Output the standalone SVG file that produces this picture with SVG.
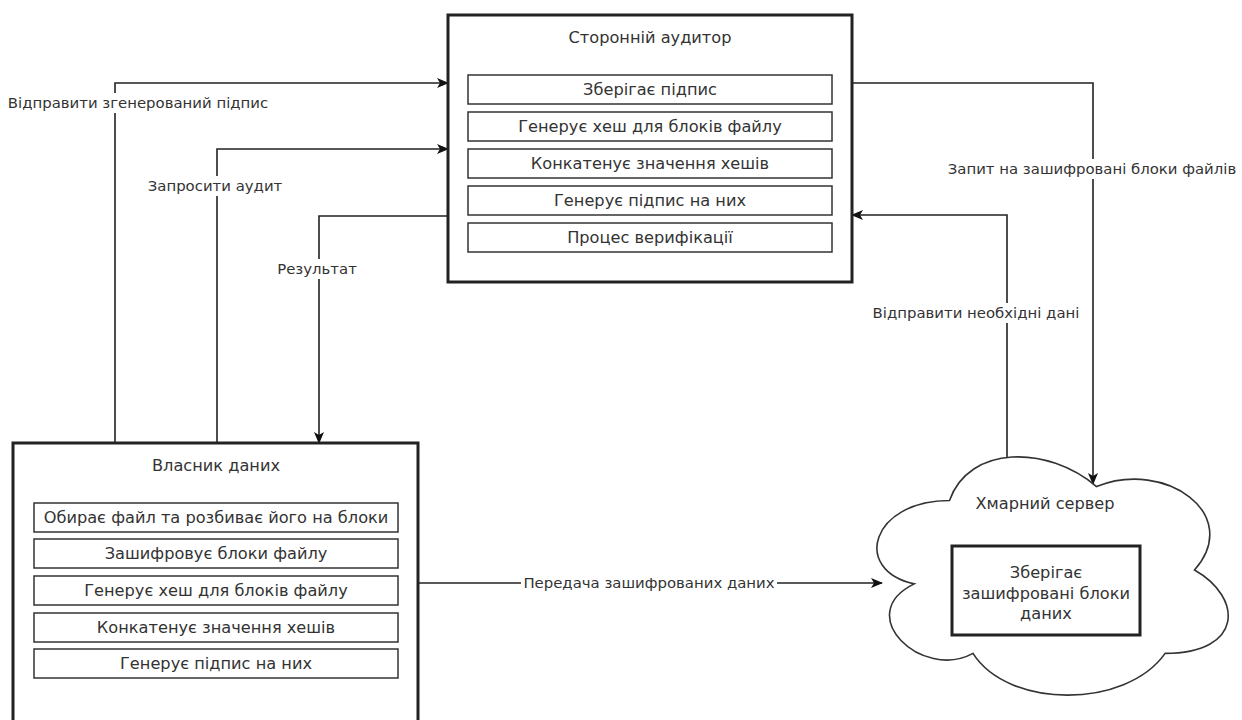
<svg xmlns="http://www.w3.org/2000/svg" width="1242" height="720" viewBox="0 0 1242 720">
<style>
  .box{fill:#fff;stroke:#222;stroke-width:3}
  .row{fill:#fff;stroke:#333;stroke-width:1.5}
  .t{font-family:"DejaVu Sans",Verdana,sans-serif;font-size:16.2px;fill:#333;text-anchor:middle}
  .l{font-family:"DejaVu Sans",Verdana,sans-serif;font-size:14.9px;fill:#333;text-anchor:middle}
  .edge{fill:none;stroke:#222;stroke-width:1.6}
  .lbl{fill:#fff}
</style>
<defs>
  <marker id="arr" viewBox="0 0 12 10" refX="11" refY="5" markerWidth="12" markerHeight="10" markerUnits="userSpaceOnUse" orient="auto">
    <path d="M0,0 L12,5 L0,10 L3,5 Z" fill="#111"/>
  </marker>
</defs>
<rect width="1242" height="720" fill="#fff"/>

<g id="connectors">
  <path class="edge" d="M115,443 V83 H448" marker-end="url(#arr)"/>
  <path class="edge" d="M217,443 V149 H448" marker-end="url(#arr)"/>
  <path class="edge" d="M448,216 H319 V443" marker-end="url(#arr)"/>
  <path class="edge" d="M852,83 H1093 V484" marker-end="url(#arr)"/>
  <path class="edge" d="M1007,457 V215 H852" marker-end="url(#arr)"/>
  <path class="edge" d="M418,583 H882" marker-end="url(#arr)"/>
  <rect class="lbl" x="8" y="93" width="262" height="20"/>
  <text class="l" x="138" y="108">Відправити згенерований підпис</text>
  <rect class="lbl" x="148" y="176" width="134" height="20"/>
  <text class="l" x="215" y="191">Запросити аудит</text>
  <rect class="lbl" x="276" y="259" width="82" height="20"/>
  <text class="l" x="317" y="274">Результат</text>
  <rect class="lbl" x="946" y="159" width="293" height="20"/>
  <text class="l" x="1092" y="174">Запит на зашифровані блоки файлів</text>
  <rect class="lbl" x="871" y="303" width="210" height="20"/>
  <text class="l" x="976" y="318">Відправити необхідні дані</text>
  <rect class="lbl" x="521" y="573" width="256" height="20"/>
  <text class="l" x="649" y="588">Передача зашифрованих даних</text>
</g>

<g id="auditor">
  <rect class="box" x="448" y="15" width="404" height="267"/>
  <text class="t" x="650" y="43">Сторонній аудитор</text>
  <rect class="row" x="468" y="75" width="364" height="29"/>
  <text class="t" x="650" y="95">Зберігає підпис</text>
  <rect class="row" x="468" y="112" width="364" height="29"/>
  <text class="t" x="650" y="132">Генерує хеш для блоків файлу</text>
  <rect class="row" x="468" y="149" width="364" height="29"/>
  <text class="t" x="650" y="169">Конкатенує значення хешів</text>
  <rect class="row" x="468" y="186" width="364" height="29"/>
  <text class="t" x="650" y="206">Генерує підпис на них</text>
  <rect class="row" x="468" y="223" width="364" height="29"/>
  <text class="t" x="650" y="243">Процес верифікації</text>
</g>

<g id="owner">
  <rect class="box" x="13" y="443" width="405" height="290"/>
  <text class="t" x="216" y="471">Власник даних</text>
  <rect class="row" x="34" y="503" width="364" height="29"/>
  <text class="t" x="216" y="523">Обирає файл та розбиває його на блоки</text>
  <rect class="row" x="34" y="539" width="364" height="29"/>
  <text class="t" x="216" y="559">Зашифровує блоки файлу</text>
  <rect class="row" x="34" y="576" width="364" height="29"/>
  <text class="t" x="216" y="596">Генерує хеш для блоків файлу</text>
  <rect class="row" x="34" y="613" width="364" height="29"/>
  <text class="t" x="216" y="633">Конкатенує значення хешів</text>
  <rect class="row" x="34" y="649" width="364" height="29"/>
  <text class="t" x="216" y="669">Генерує підпис на них</text>
</g>

<g id="cloud">
  <path fill="#fff" stroke="#333" stroke-width="1.6" d="M949.5,500.5 C871.1,500.5 851.5,570 914.2,583.9 C851.5,614.5 922.1,681.2 973,653.4 C1008.3,709 1125.9,709 1165.1,653.4 C1243.5,653.4 1243.5,597.8 1194.5,570 C1243.5,514.4 1165.1,458.8 1096.5,486.6 C1047.5,444.9 969.1,444.9 949.5,500.5 Z"/>
  <text class="t" x="1045" y="509">Хмарний сервер</text>
  <rect x="952" y="546" width="188" height="89" fill="#fff" stroke="#222" stroke-width="3"/>
  <text class="t" x="1046" y="578">Зберігає</text>
  <text class="t" x="1046" y="599">зашифровані блоки</text>
  <text class="t" x="1046" y="619">даних</text>
</g>
</svg>
